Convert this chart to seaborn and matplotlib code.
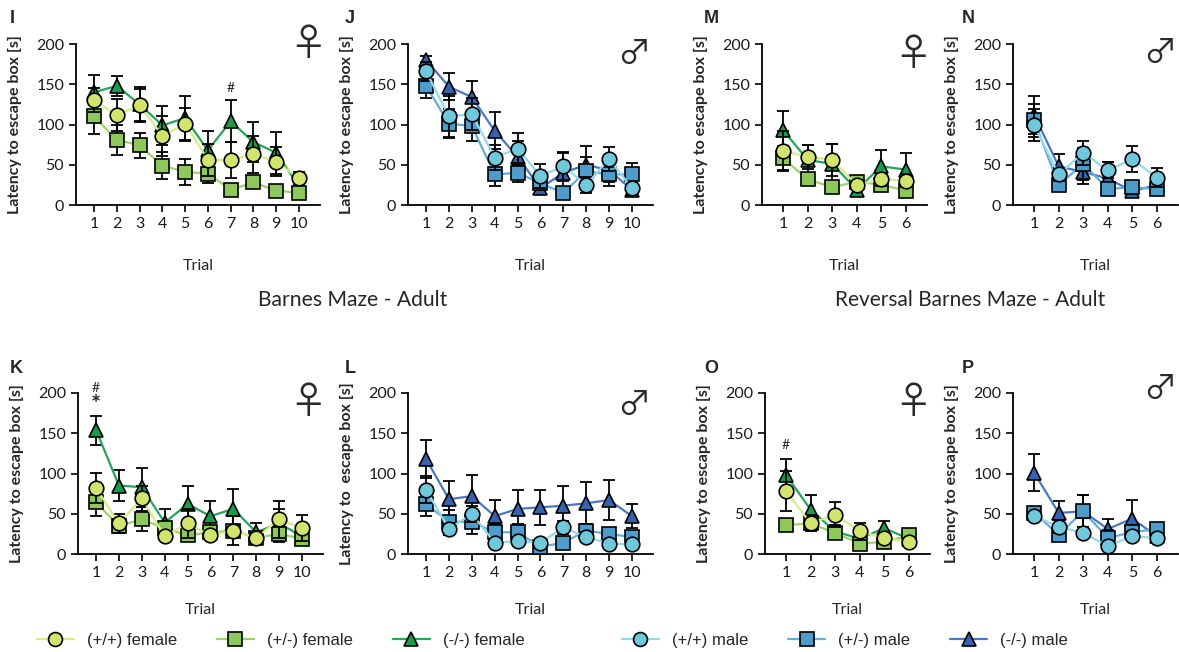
import matplotlib
matplotlib.use("Agg")
from matplotlib import pyplot as plt
from matplotlib.lines import Line2D
import seaborn as sns

W, H = 1179, 652

trials10 = [1, 2, 3, 4, 5, 6, 7, 8, 9, 10]
trials6 = [1, 2, 3, 4, 5, 6]

# Barnes Maze - juvenile (I = female, J = male)
I_wt = [130, 112, 124, 86, 101, 56, 56, 63, 54, 33]
I_wt_err = [15, 20, 20, 25, 20, 20, 22, 23, 18, 8]
I_het = [110, 81, 74, 49, 41, 39, 19, 28, 18, 15]
I_het_err = [22, 19, 15, 17, 16, 12, 3, 5, 3, 3]
I_ko = [140, 148, 125, 99, 108, 68, 104, 78, 65, 23]
I_ko_err = [22, 12, 22, 24, 28, 24, 26, 25, 26, 10]

J_wt = [166, 110, 113, 59, 70, 36, 48, 25, 57, 21]
J_wt_err = [12, 25, 20, 15, 20, 15, 18, 10, 15, 8]
J_het = [148, 101, 98, 38, 40, 27, 15, 42, 38, 38]
J_het_err = [15, 18, 18, 15, 12, 8, 3, 18, 15, 14]
J_ko = [180, 147, 134, 92, 60, 21, 40, 50, 43, 19]
J_ko_err = [5, 17, 20, 23, 20, 5, 25, 23, 15, 8]

# Reversal Barnes Maze - juvenile (M = female, N = male)
M_wt = [67, 60, 56, 25, 32, 30]
M_wt_err = [25, 15, 20, 5, 8, 8]
M_het = [58, 32, 22, 29, 25, 18]
M_het_err = [15, 4, 4, 5, 7, 5]
M_ko = [93, 56, 51, 19, 48, 44]
M_ko_err = [24, 18, 25, 5, 20, 21]

N_wt = [99, 38, 65, 43, 57, 34]
N_wt_err = [20, 8, 15, 10, 16, 12]
N_het = [105, 25, 51, 20, 22, 20]
N_het_err = [20, 4, 20, 5, 5, 4]
N_ko = [112, 48, 41, 33, 17, 25]
N_ko_err = [24, 15, 15, 20, 4, 5]

# Barnes Maze - Adult (K = female, L = male)
K_wt = [82, 38, 69, 22, 38, 23, 29, 20, 43, 32]
K_wt_err = [19, 12, 15, 5, 18, 6, 18, 6, 23, 16]
K_het = [64, 35, 43, 32, 23, 27, 29, 20, 25, 19]
K_het_err = [17, 4, 15, 8, 5, 6, 5, 5, 10, 5]
K_ko = [154, 85, 83, 39, 62, 47, 56, 27, 38, 22]
K_ko_err = [18, 19, 24, 17, 23, 19, 25, 12, 18, 8]

L_wt = [80, 31, 50, 14, 16, 14, 33, 21, 13, 12]
L_wt_err = [17, 8, 10, 4, 5, 5, 8, 6, 3, 3]
L_het = [62, 40, 40, 27, 27, 9, 14, 29, 25, 21]
L_het_err = [15, 15, 15, 10, 10, 3, 3, 8, 6, 5]
L_ko = [118, 68, 72, 47, 56, 58, 60, 63, 67, 47]
L_ko_err = [23, 23, 26, 20, 23, 22, 25, 26, 25, 15]

# Reversal Barnes Maze - Adult (O = female, P = male)
O_wt = [78, 38, 49, 28, 20, 15]
O_wt_err = [25, 10, 15, 10, 5, 4]
O_het = [36, 38, 26, 13, 15, 23]
O_het_err = [3, 5, 5, 3, 3, 4]
O_ko = [98, 55, 28, 19, 32, 19]
O_ko_err = [20, 18, 8, 5, 9, 4]

P_wt = [47, 34, 26, 10, 22, 20]
P_wt_err = [5, 8, 4, 4, 5, 5]
P_het = [51, 24, 53, 20, 27, 31]
P_het_err = [7, 5, 20, 10, 7, 8]
P_ko = [101, 51, 53, 31, 44, 22]
P_ko_err = [23, 15, 20, 12, 23, 8]

group_labels = ["(+/+) female", "(+/-) female", "(-/-) female",
                "(+/+) male", "(+/-) male", "(-/-) male"]

# colours (marker face, line)
fem_face = ["#d3e46c", "#8fc85a", "#179b4c"]
fem_line = ["#d8eb8a", "#9fd26a", "#22a657"]
male_face = ["#6fc8dc", "#4d9ccc", "#3563ad"]
male_line = ["#93dbec", "#66acdb", "#4a78c0"]
marker_shapes = ["o", "s", "^"]

sns.set_style("ticks")
plt.rcParams["font.family"] = ["Lato", "DejaVu Sans"]

fig = plt.figure(figsize=(W / 100, H / 100), dpi=100)


def px_axes(left, right, top, bottom):
    return fig.add_axes([left / W, 1 - bottom / H, (right - left) / W, (bottom - top) / H])


def panel(ax, trials, series, faces, lines, ylab, xpad):
    # series in order wt, het, ko ; ko drawn first so wt sits on top
    for k in [2, 1, 0]:
        mean, err = series[k]
        z = 3 + (2 - k)
        ax.errorbar(trials, mean, yerr=err, fmt="none", ecolor="black",
                    elinewidth=1.3, capsize=4.2, capthick=1.3, zorder=z - 0.5,
                    clip_on=False)
        sns.lineplot(x=trials, y=mean, ax=ax, color=lines[k], linewidth=1.6,
                     marker=marker_shapes[k], markersize=10.5 if k != 1 else 10,
                     markerfacecolor=faces[k], markeredgecolor="black",
                     markeredgewidth=1.2, errorbar=None, zorder=z, clip_on=False)
    if len(trials) == 10:
        ax.set_xlim(0.21, 10.92)
    else:
        ax.set_xlim(0.14, 6.86)
    ax.set_ylim(0, 200)
    ax.set_yticks([0, 50, 100, 150, 200])
    ax.set_xticks(trials)
    ax.tick_params(axis="both", labelsize=11.5, length=5, width=1.2, color="black",
                   labelcolor="#1a1a1a", direction="out")
    ax.set_xlabel("Trial", fontsize=11.5, labelpad=xpad)
    ax.set_ylabel(ylab, fontsize=11.5, fontweight="bold", labelpad=10)
    for s in ["left", "bottom"]:
        ax.spines[s].set_linewidth(1.3)
        ax.spines[s].set_color("black")
    sns.despine(ax=ax)


ylab = "Latency to escape box [s]"
top_row = (44, 205)
bot_row = (393, 554)

specs = [
    ("I", (76, 320), top_row, trials10, [(I_wt, I_wt_err), (I_het, I_het_err), (I_ko, I_ko_err)], "f", ylab),
    ("J", (408, 653), top_row, trials10, [(J_wt, J_wt_err), (J_het, J_het_err), (J_ko, J_ko_err)], "m", ylab),
    ("M", (762, 927), top_row, trials6, [(M_wt, M_wt_err), (M_het, M_het_err), (M_ko, M_ko_err)], "f", ylab),
    ("N", (1013, 1178), top_row, trials6, [(N_wt, N_wt_err), (N_het, N_het_err), (N_ko, N_ko_err)], "m", ylab),
    ("K", (78, 323), bot_row, trials10, [(K_wt, K_wt_err), (K_het, K_het_err), (K_ko, K_ko_err)], "f", ylab),
    ("L", (408, 653), bot_row, trials10, [(L_wt, L_wt_err), (L_het, L_het_err), (L_ko, L_ko_err)], "m", "Latency to  escape box [s]"),
    ("O", (765, 930), bot_row, trials6, [(O_wt, O_wt_err), (O_het, O_het_err), (O_ko, O_ko_err)], "f", ylab),
    ("P", (1013, 1178), bot_row, trials6, [(P_wt, P_wt_err), (P_het, P_het_err), (P_ko, P_ko_err)], "m", ylab),
]

letter_pos = {"I": (10, 10), "J": (345, 10), "M": (704, 10), "N": (962, 10),
              "K": (10, 360), "L": (345, 360), "O": (704, 360), "P": (962, 360)}
sex_pos = {"I": (308, 44), "J": (634, 54), "M": (913, 54), "N": (1160, 53),
           "K": (308, 403), "L": (634, 405), "O": (913, 403), "P": (1160, 389)}

axes = {}
for name, (xl, xr), (yt, yb), trials, series, sex, lab in specs:
    ax = px_axes(xl, xr, yt, yb)
    xpad = 20 if yt == 44 else 17
    if sex == "f":
        panel(ax, trials, series, fem_face, fem_line, lab, xpad)
    else:
        panel(ax, trials, series, male_face, male_line, lab, xpad)
    axes[name] = ax
    lx, ly = letter_pos[name]
    fig.text(lx / W, 1 - ly / H, name, fontsize=13, fontweight="bold",
             family=["Liberation Sans", "DejaVu Sans"], ha="left", va="top")
    sx, sy = sex_pos[name]
    fig.text(sx / W, 1 - sy / H, "\u2640" if sex == "f" else "\u2642",
             fontsize=27 if sex == "f" else 24,
             family=["Noto Sans CJK JP", "DejaVu Sans"], color="#2a2a2a",
             ha="center", va="center")

# significance marks
axes["I"].text(7, 145, "#", ha="center", va="center", fontsize=10)
axes["K"].text(1, 206, "#", ha="center", va="center", fontsize=10, clip_on=False)
axes["K"].text(1, 185, "*", ha="center", va="center", fontsize=17, fontweight="bold", clip_on=False)
axes["O"].text(1, 136, "#", ha="center", va="center", fontsize=10)

fig.text(353 / W, 1 - 300 / H, "Barnes Maze - Adult", fontsize=15.2, ha="center", va="center")
fig.text(970 / W, 1 - 300 / H, "Reversal Barnes Maze - Adult", fontsize=15, ha="center", va="center")


def handle(face, line, m):
    return Line2D([], [], color=line, linewidth=1.6, marker=m, markersize=10,
                  markerfacecolor=face, markeredgecolor="black", markeredgewidth=1.2)


fem_handles = [handle(fem_face[k], fem_line[k], marker_shapes[k]) for k in range(3)]
male_handles = [handle(male_face[k], male_line[k], marker_shapes[k]) for k in range(3)]
leg_kw = dict(ncol=3, frameon=False, handlelength=2.2, columnspacing=2.4,
              handletextpad=0.8, prop={"family": ["Liberation Sans", "DejaVu Sans"], "size": 12})
fig.legend(fem_handles, group_labels[:3], loc="center left",
           bbox_to_anchor=(22 / W, 1 - 640 / H), **leg_kw)
fig.legend(male_handles, group_labels[3:], loc="center left",
           bbox_to_anchor=(607 / W, 1 - 640 / H), **leg_kw)

fig.savefig("out.png", dpi=100)
